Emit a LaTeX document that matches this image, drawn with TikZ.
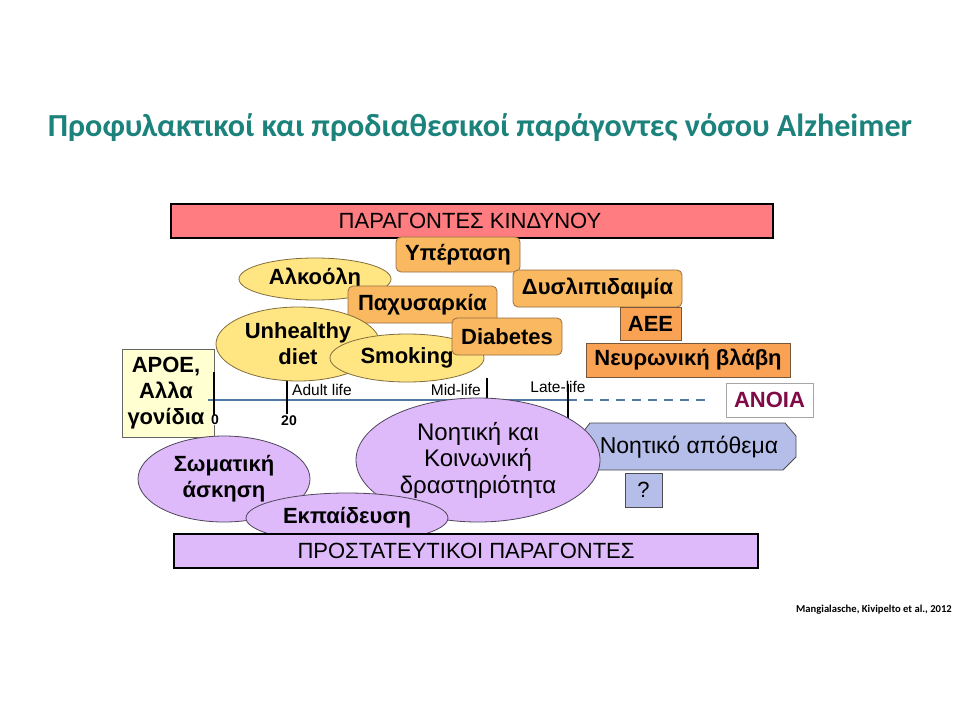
\documentclass[tikz,border=0pt]{standalone}
\usepackage{fontspec}
\setmainfont{Liberation Sans}
\newfontfamily\titlefont{Carlito}
\usetikzlibrary{shapes.geometric}
\definecolor{titlecol}{RGB}{28,130,124}
\definecolor{riskbar}{RGB}{255,124,128}
\definecolor{orlight}{RGB}{250,184,96}
\definecolor{ordark}{RGB}{249,162,84}
\definecolor{orbord}{RGB}{150,110,70}
\definecolor{yel}{RGB}{255,230,130}
\definecolor{yelbord}{RGB}{130,110,60}
\definecolor{apoefill}{RGB}{255,255,210}
\definecolor{purp}{RGB}{222,186,250}
\definecolor{purpbord}{RGB}{80,70,90}
\definecolor{bluel}{RGB}{180,190,232}
\definecolor{timeline}{RGB}{80,120,165}
\definecolor{anoiacol}{RGB}{128,10,70}
\begin{document}
\begin{tikzpicture}[x=1pt,y=-1pt,
  bt/.style={font=\fontsize{22}{26}\selectfont\bfseries},
  rt/.style={font=\fontsize{22}{26}\selectfont},
  rtl/.style={font=\fontsize{24}{26.5}\selectfont},
  orbox/.style={draw=orbord, fill=orlight, rounded corners=5pt, inner sep=0pt, line width=0.8pt, bt},
  orrect/.style={draw=orbord!80!black, fill=ordark, inner sep=0pt, line width=0.8pt, bt},
  yelell/.style={ellipse, draw=yelbord, fill=yel, inner sep=0pt, line width=0.8pt, bt, align=center},
  purell/.style={ellipse, draw=purpbord, fill=purp, inner sep=0pt, line width=0.8pt, align=center},
  bar/.style={draw=black, line width=2pt, inner sep=0pt},
  tick/.style={draw=black, line width=1.6pt},
  smalllab/.style={font=\fontsize{15.5}{17}\selectfont},
  numlab/.style={font=\fontsize{14}{16}\selectfont\bfseries}
]
\useasboundingbox[fill=white] (0,0) rectangle (960,720);

% title
\node[text=titlecol] (title) at (480,128) {\resizebox{864pt}{!}{\titlefont\bfseries Προφυλακτικοί και προδιαθεσικοί παράγοντες νόσου Alzheimer}};

% risk bar
\node[bar, fill=riskbar, minimum width=602pt, minimum height=34pt] (riskbar) at (472,221) {};
\node[rt] (risktext) at (470,221) {ΠΑΡΑΓΟΝΤΕΣ ΚΙΝΔΥΝΟΥ};

% APOE box
\node[draw=gray!80!black, fill=apoefill, line width=0.8pt, minimum width=92pt, minimum height=88pt, inner sep=0pt] (apoe) at (168,393) {};
\node[align=center, font=\fontsize{22}{26}\selectfont\bfseries] (apoetext) at (166,393) {APOE,\\Αλλα\\γονίδια};

% timeline
\coordinate (t0) at (208,400);
\coordinate (tl) at (568,400);
\coordinate (tend) at (705,400);
\draw[timeline, line width=1.6pt] (t0) -- (tl);
\draw[timeline, line width=1.6pt, dash pattern=on 9pt off 7pt] (tl) -- (tend);
\coordinate (k0a) at (214,372); \coordinate (k0b) at (214,417);
\coordinate (k20a) at (287,380); \coordinate (k20b) at (287,414);
\coordinate (kma) at (487,378); \coordinate (kmb) at (487,401);
\coordinate (kla) at (568,384); \coordinate (klb) at (568,419);
\draw[tick] (k0a) -- (k0b);
\draw[tick] (k20a) -- (k20b);
\draw[tick] (kma) -- (kmb);
\draw[tick] (kla) -- (klb);
\node[numlab, fill=white, inner sep=0.5pt] (n0) at (215,420) {0};
\node[numlab] (n20) at (289,421) {20};
\node[smalllab, anchor=west, inner sep=0pt] (adult) at (292,390) {Adult life};
\node[smalllab, anchor=east, inner sep=0pt] (mid) at (481,390) {Mid-life};
\node[smalllab, inner sep=0pt] (late) at (558,387) {Late-life};

% risk factors
\node[orbox, minimum width=124pt, minimum height=35pt] (yperf) at (458,254.5) {Υπέρταση};
\node[yelell, minimum width=152pt, minimum height=42pt] (alk) at (315,279) {Αλκοόλη};
\node[orbox, minimum width=149pt, minimum height=37pt] (pax) at (422.5,304.5) {Παχυσαρκία};
\node[yelell, minimum width=164pt, minimum height=74pt] (diet) at (298,344) {Unhealthy\\diet};
\node[yelell, minimum width=154pt, minimum height=48pt] (smok) at (407,358) {Smoking};
\node[orbox, minimum width=110pt, minimum height=37pt] (diab) at (507,336.5) {Diabetes};
\node[orbox, minimum width=169pt, minimum height=37pt] (dysl) at (597.5,288.5) {Δυσλιπιδαιμία};
\node[orrect, minimum width=61pt, minimum height=33pt] (aee) at (650.5,323.5) {ΑΕΕ};
\node[orrect, minimum width=204pt, minimum height=34pt] (neur) at (688,360) {Νευρωνική βλάβη};

% dementia
\node[draw=gray!70, fill=white, line width=0.8pt, minimum width=87pt, minimum height=34pt, inner sep=0pt, bt, text=anoiacol] (anoia) at (769.5,400) {ΑΝΟΙΑ};

% cognitive reserve shape
\draw[draw=gray!60!black, fill=bluel, line width=0.8pt] (590,423) -- (785,423) -- (796,436) -- (796,457) -- (783,470) -- (590,470) -- (580,457) -- (580,436) -- cycle;
\node[draw=gray!60!black, fill=bluel, line width=0.8pt, minimum width=37pt, minimum height=34pt, inner sep=0pt, rt] (quest) at (643.5,490) {?};

% protective factors
\node[purell, rtl, minimum width=244pt, minimum height=124pt] (noet) at (478,460) {Νοητική και\\Κοινωνική\\δραστηριότητα};
\node[font=\fontsize{23}{26}\selectfont, inner sep=0pt] (apoth) at (689,447) {Νοητικό απόθεμα};
\node[purell, bt, minimum width=172pt, minimum height=86pt] (soma) at (224,479) {Σωματική\\άσκηση};
\node[purell, bt, minimum width=202pt, minimum height=50pt] (ekp) at (347,518) {Εκπαίδευση};

\node[bar, fill=purp, minimum width=584pt, minimum height=34pt] (protbar) at (466,551) {};
\node[rt] (prottext) at (466,551) {ΠΡΟΣΤΑΤΕΥΤΙΚΟΙ ΠΑΡΑΓΟΝΤΕΣ};

% credit
\node[anchor=east, font=\titlefont\fontsize{10.6}{12}\selectfont\bfseries, inner sep=0pt] (credit) at (952,610) {Mangialasche, Kivipelto et al., 2012};
\end{tikzpicture}
\end{document}
